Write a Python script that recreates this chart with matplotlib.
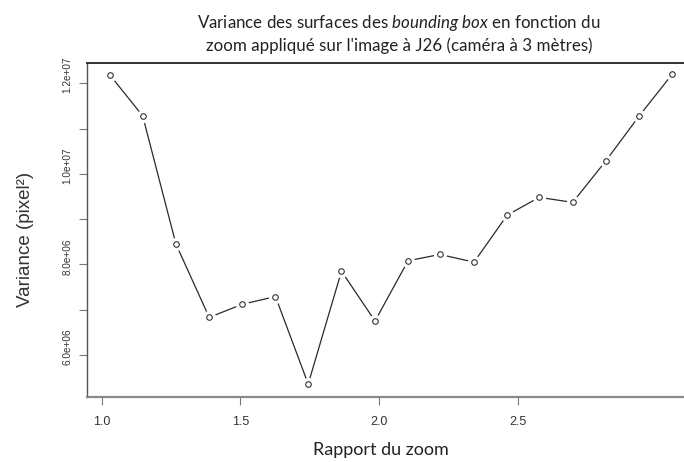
import numpy as np
import matplotlib
matplotlib.use('Agg')
import matplotlib.pyplot as plt
import matplotlib.transforms as mtransforms

# ---------- data (x in axis units) ----------

zoom_ratio = [1.030, 1.148, 1.268, 1.388, 1.507, 1.627, 1.745, 1.865, 1.986,
              2.105, 2.220, 2.343, 2.463, 2.578, 2.699, 2.819, 2.939, 3.058]
variance = [12.18e6, 11.28e6, 8.45e6, 6.83e6, 7.12e6, 7.29e6, 5.36e6, 7.85e6, 6.75e6,
            8.08e6, 8.22e6, 8.05e6, 9.09e6, 9.48e6, 9.37e6, 10.29e6, 11.28e6, 12.20e6]

x_ticks = [1.0, 1.5, 2.0, 2.5]
x_tick_labels = ['1.0', '1.5', '2.0', '2.5']
y_ticks = [6e6, 7e6, 8e6, 9e6, 10e6, 11e6, 12e6]
y_tick_labels = ['6.0e+06', '', '8.0e+06', '', '1.0e+07', '', '1.2e+07']

title_1 = 'Variance des surfaces des $\\it{bounding\\ box}$ en fonction du'
title_2 = "zoom appliqué sur l'image à J26 (caméra à 3 mètres)"

# italic part of the title in the same family as the rest
plt.rcParams['mathtext.fontset'] = 'custom'
plt.rcParams['mathtext.rm'] = 'Lato'
plt.rcParams['mathtext.it'] = 'Lato:italic'

# ---------- plot ----------

fig = plt.figure(figsize=(6.84, 4.62), dpi=100)
ax = fig.add_axes([0.1279, 0.1407, 0.8955, 0.7236])

ax.plot(zoom_ratio, variance, color='#2a2a2a', lw=0.9, zorder=1)
# R "type='b'" look: white halo then open circle
ax.plot(zoom_ratio, variance, 'o', ms=8.5, color='white', mec='white', zorder=2)
ax.plot(zoom_ratio, variance, 'o', ms=4.0, mfc='white', mec='#333333', mew=0.8, zorder=3)

ax.set_xlim(0.949, 3.158)
ax.set_ylim(5.073e6, 12.453e6)

ax.set_xticks(x_ticks)
ax.set_xticklabels(x_tick_labels, fontsize=9, family='Liberation Sans', color='#333333')
ax.set_yticks(y_ticks)
ax.set_yticklabels(y_tick_labels, fontsize=7.2, family='Liberation Sans', color='#333333',
                   rotation=90, va='center')
ax.tick_params(axis='both', length=6, width=0.8, color='#777777')
ax.tick_params(axis='x', pad=8)
ax.tick_params(axis='y', pad=5)

# y labels sit a little above their ticks in the reference
offset = mtransforms.ScaledTranslation(0, 0.08, fig.dpi_scale_trans)
for lab in ax.get_yticklabels():
    lab.set_transform(lab.get_transform() + offset)

ax.spines['top'].set_color('#222222')
ax.spines['top'].set_linewidth(1.3)
ax.spines['left'].set_color('#555555')
ax.spines['left'].set_linewidth(1.0)
ax.spines['bottom'].set_color('#8a8a8a')
ax.spines['bottom'].set_linewidth(1.6)
ax.spines['right'].set_visible(False)

ax.set_xlabel('Rapport du zoom', fontsize=13, family='Lato', color='#222222')
ax.xaxis.set_label_coords(0.479, -0.135)
ax.set_ylabel('Variance (pixel²)', fontsize=13.5, family='Liberation Sans', color='#333333')
ax.yaxis.set_label_coords(-0.088, 0.47)

fig.text(0.583, 0.951, title_1, fontsize=12.2, family='Lato', ha='center', va='center',
         color='#222222')
fig.text(0.583, 0.901, title_2, fontsize=12.2, family='Lato', ha='center', va='center',
         color='#222222')

fig.savefig('out.png', dpi=100)
